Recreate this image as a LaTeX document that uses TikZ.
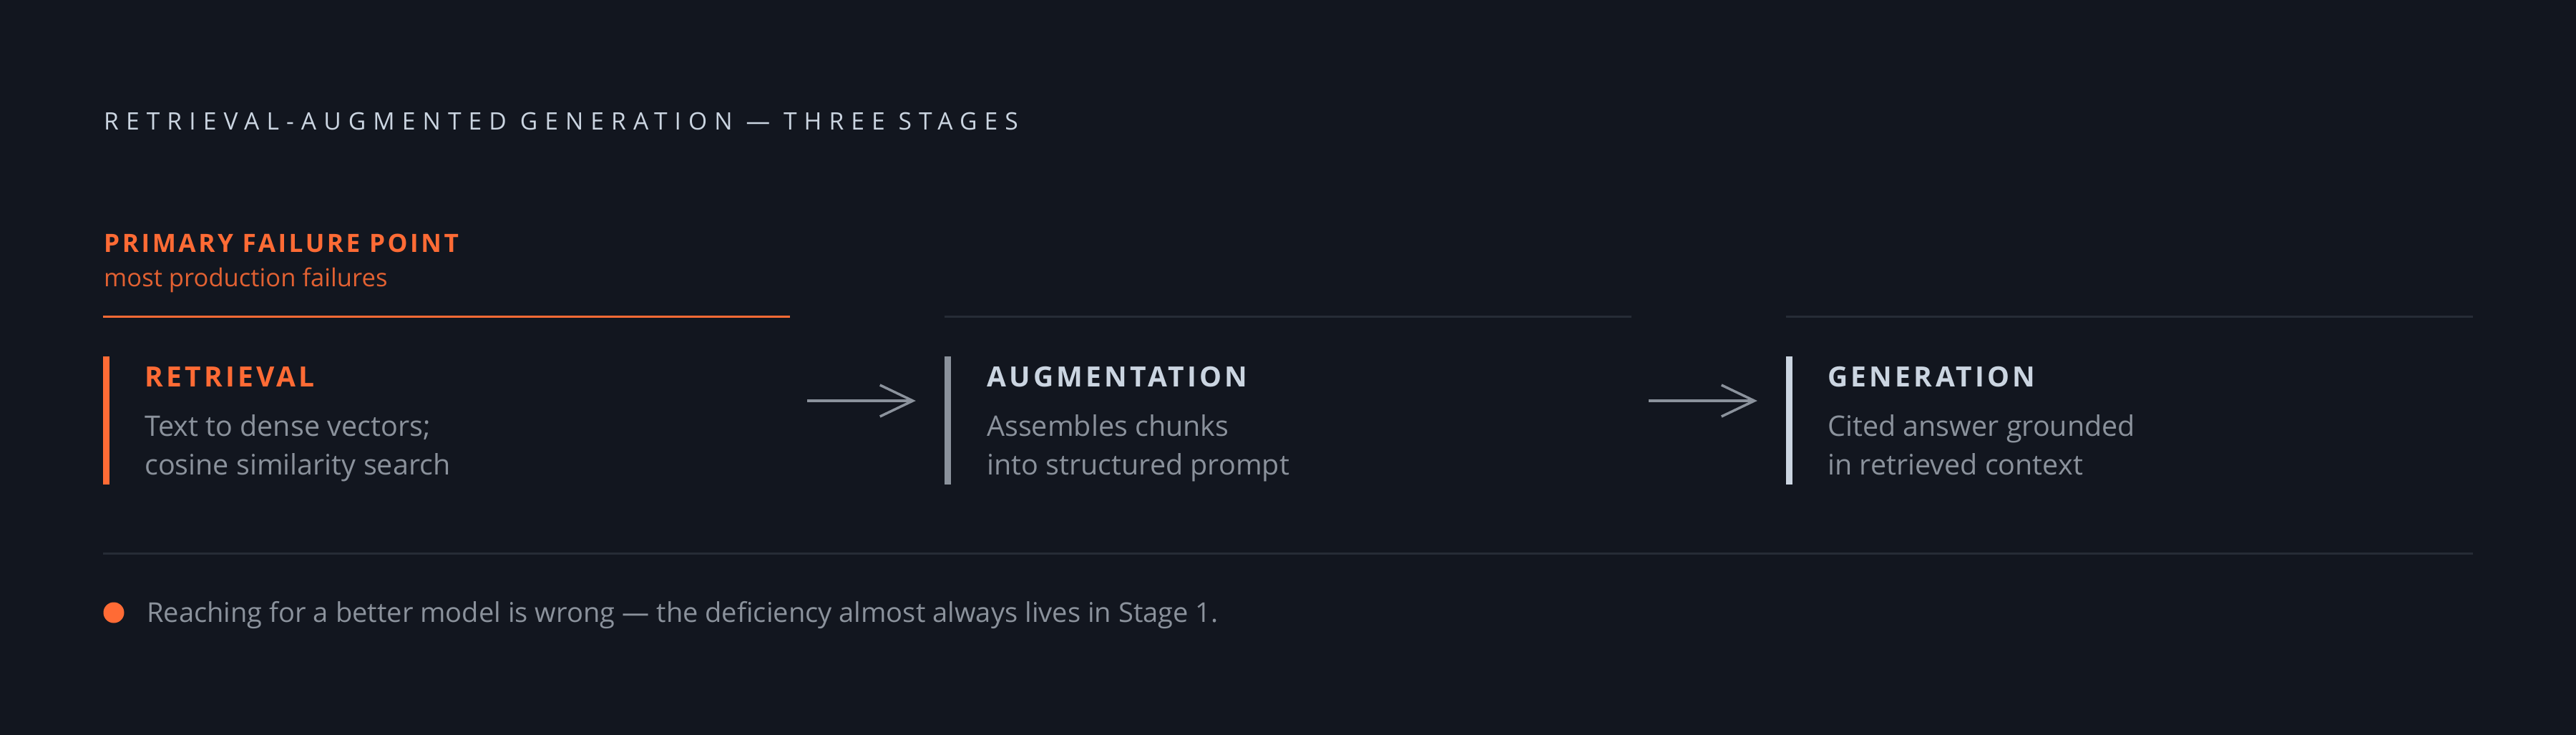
\documentclass[tikz,border=0pt]{standalone}
\usepackage{fontspec}
\setmainfont{Open Sans}
\newfontfamily\trackfont[LetterSpace=30]{Open Sans}
\newfontfamily\flagfont[LetterSpace=10]{Open Sans}
\newfontfamily\stagefont[LetterSpace=11]{Open Sans}
\usetikzlibrary{arrows.meta, positioning}
\definecolor{bg}{HTML}{12161F}
\definecolor{ember}{HTML}{FF6B35}
\definecolor{slate}{HTML}{CBD5E1}
\definecolor{muted}{HTML}{8B929C}
\definecolor{rulegray}{HTML}{262C36}
\begin{document}
\begin{tikzpicture}[x=10pt,y=10pt]
\tikzstyle{every node}+=[inner sep=0pt, anchor=base west]
\tikzstyle{column}=[minimum width=960pt, minimum height=234pt, anchor=center]
\tikzstyle{stagename}=[font=\fontsize{39}{46}\selectfont\stagefont\bfseries]
\tikzstyle{desc}=[muted, align=left, font=\fontsize{39.5}{53.5}\selectfont]
\tikzstyle{flow}=[muted, line width=3.5pt, -{Straight Barb[length=46pt, width=44pt]}]
\useasboundingbox (0,0) rectangle (360,-102.6);
\fill [bg] (-2,2) rectangle (362,-104.6);
\node (title) at (14.5,-18.1) [slate, font=\fontsize{33.6}{40}\selectfont\trackfont] {RETRIEVAL-AUGMENTED GENERATION — THREE STAGES};
\node (flag) at (14.5,-35.2) [ember, font=\fontsize{35.2}{40}\selectfont\flagfont\bfseries] {PRIMARY FAILURE POINT};
\node (flagsub) at (14.5,-40.0) [ember!88!bg, font=\fontsize{34.6}{40}\selectfont] {most production failures};
\node (retcol) [column] at (62.4,-56.0) {};
\node (augcol) [column] at (180.0,-56.0) {};
\node (gencol) [column] at (297.6,-56.0) {};
\draw [ember, line width=3pt] (retcol.north west) -- (retcol.north east);
\draw [rulegray, line width=3pt] (augcol.north west) -- (augcol.north east);
\draw [rulegray, line width=3pt] (gencol.north west) -- (gencol.north east);
\draw [ember, line width=8.5pt] (14.825,-49.8) -- (14.825,-67.7);
\draw [muted, line width=8.5pt] (132.425,-49.8) -- (132.425,-67.7);
\draw [slate, line width=8.5pt] (250.025,-49.8) -- (250.025,-67.7);
\node (ret) at (20.2,-54.0) [ember, stagename] {RETRIEVAL};
\node (aug) at (137.9,-54.0) [slate, stagename] {AUGMENTATION};
\node (gen) at (255.4,-54.0) [slate, stagename] {GENERATION};
\node (retdesc) at (20.2,-66.3) [desc] {Text to dense vectors;\\cosine similarity search};
\node (augdesc) at (137.9,-66.3) [desc] {Assembles chunks\\into structured prompt};
\node (gendesc) at (255.4,-66.3) [desc] {Cited answer grounded\\in retrieved context};
\draw [flow] ([xshift=24pt]retcol.east) -- ([xshift=-40pt]augcol.west);
\draw [flow] ([xshift=24pt]augcol.east) -- ([xshift=-40pt]gencol.west);
\draw [rulegray, line width=3pt] (14.4,-77.3) -- (345.6,-77.3);
\node (dot) [circle, fill=ember, minimum size=29pt, anchor=center] at (15.9,-85.6) {};
\node (note) at (20.5,-86.9) [muted, font=\fontsize{38.1}{44}\selectfont] {Reaching for a better model is wrong — the deficiency almost always lives in Stage 1.};
\end{tikzpicture}
\end{document}
